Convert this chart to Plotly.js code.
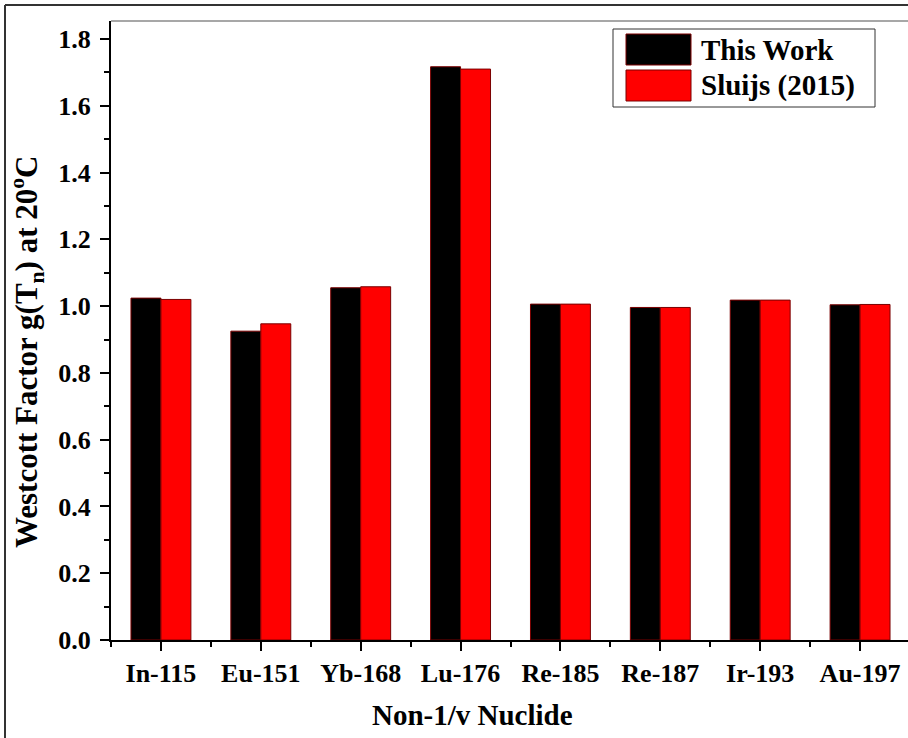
<!DOCTYPE html>
<html>
<head>
<meta charset="utf-8">
<script src="https://cdn.plot.ly/plotly-3.0.1.min.js"></script>
<style>
  html, body { margin: 0; padding: 0; background: #fff; }
  #chart { width: 908px; height: 738px; }
</style>
</head>
<body>
<div id="chart"></div>
<script>
// Westcott g-factors at 20 °C for non-1/v nuclides
const nuclides = ['In-115', 'Eu-151', 'Yb-168', 'Lu-176', 'Re-185', 'Re-187', 'Ir-193', 'Au-197'];
const thisWork = [1.024, 0.925, 1.055, 1.717, 1.006, 0.996, 1.018, 1.004];
const sluijs2015 = [1.020, 0.947, 1.058, 1.710, 1.006, 0.996, 1.018, 1.005];
const seriesNames = ['This Work', 'Sluijs (2015)'];
const seriesColors = ['#000000', '#ff0000'];
const xTitle = 'Non-1/v Nuclide';
const yTitle = 'Westcott Factor g(T<sub>n</sub>) at 20<sup>o</sup>C';

const FONT = 'Liberation Serif, Times New Roman, serif';
const xIdx = nuclides.map((_, i) => i);

const traces = [thisWork, sluijs2015].map((vals, k) => ({
  type: 'bar',
  name: seriesNames[k],
  x: xIdx,
  y: vals,
  marker: { color: seriesColors[k], line: { color: '#7a0000', width: 1 } },
  showlegend: false,
  hoverinfo: 'x+y'
}));

// plot area in px: left 111, right 908, top 21, bottom 640
const L = 111, R = 908, T = 21, B = 640;
const px = v => (v - L) / (R - L);
const py = v => (B - v) / (B - T);

const shapes = [
  // upper frame line of the plot area
  { type: 'line', xref: 'paper', yref: 'paper', x0: 0, x1: 1, y0: 1, y1: 1,
    line: { color: '#8a8a8a', width: 1.5 } },
  // outer border
  { type: 'line', xref: 'paper', yref: 'paper', x0: px(5), x1: px(5), y0: py(738), y1: py(5),
    line: { color: '#333', width: 2 } },
  { type: 'line', xref: 'paper', yref: 'paper', x0: px(5), x1: px(909), y0: py(5), y1: py(5),
    line: { color: '#333', width: 2 } },
  // legend box
  { type: 'rect', xref: 'paper', yref: 'paper', x0: px(613), x1: px(875), y0: py(107), y1: py(29),
    line: { color: '#333', width: 1 }, fillcolor: '#fff', layer: 'above' }
];

const annotations = [
  // axis titles
  { xref: 'paper', yref: 'paper', x: px(472), y: py(715), xanchor: 'center', yanchor: 'middle',
    showarrow: false, text: xTitle,
    font: { family: FONT, size: 29, weight: 'bold', color: '#000' } },
  { xref: 'paper', yref: 'paper', x: px(27), y: py(352), xanchor: 'center', yanchor: 'middle',
    showarrow: false, textangle: -90, text: yTitle,
    font: { family: FONT, size: 31, weight: 'bold', color: '#000' } }
];

seriesNames.forEach((name, k) => {
  const yTop = 34 + k * 36, yBot = yTop + 31;
  shapes.push({ type: 'rect', xref: 'paper', yref: 'paper',
    x0: px(626), x1: px(691), y0: py(yBot), y1: py(yTop),
    fillcolor: seriesColors[k], line: { color: '#7a0000', width: 1 }, layer: 'above' });
  annotations.push({ xref: 'paper', yref: 'paper', x: px(699), y: py((yTop + yBot) / 2),
    xanchor: 'left', yanchor: 'middle', showarrow: false, text: name,
    font: { family: FONT, size: 29, weight: 'bold', color: '#000' } });
});

const layout = {
  width: 908,
  height: 738,
  margin: { l: L, r: 908 - R, t: T, b: 738 - B, pad: 0 },
  paper_bgcolor: '#fff',
  plot_bgcolor: '#fff',
  font: { family: FONT, size: 26, weight: 'bold', color: '#000' },
  barmode: 'group',
  bargap: 0.4,
  bargroupgap: 0,
  xaxis: {
    range: [-0.5, 7.48],
    tickmode: 'array',
    tickvals: xIdx,
    ticktext: nuclides,
    ticks: 'outside',
    ticklen: 9,
    tickwidth: 2,
    tickcolor: '#000',
    minor: { tickmode: 'linear', tick0: 0.5, dtick: 1, ticks: 'outside', ticklen: 5, tickwidth: 2, tickcolor: '#000' },
    showline: true,
    linecolor: '#000',
    linewidth: 2,
    showgrid: false,
    zeroline: false,
    tickfont: { family: FONT, size: 26, weight: 'bold', color: '#000' },
    automargin: false,
    fixedrange: true
  },
  yaxis: {
    range: [0, 1.854],
    tick0: 0,
    dtick: 0.2,
    tickformat: '.1f',
    ticks: 'outside',
    ticklen: 9,
    tickwidth: 2,
    tickcolor: '#000',
    minor: { dtick: 0.1, ticks: 'outside', ticklen: 5, tickwidth: 2, tickcolor: '#000' },
    showline: true,
    linecolor: '#000',
    linewidth: 2,
    showgrid: false,
    zeroline: false,
    ticklabelstandoff: 4,
    tickfont: { family: FONT, size: 26, weight: 'bold', color: '#000' },
    automargin: false,
    fixedrange: true
  },
  shapes: shapes,
  annotations: annotations
};

Plotly.newPlot('chart', traces, layout, { displayModeBar: false, staticPlot: true });
</script>
</body>
</html>
